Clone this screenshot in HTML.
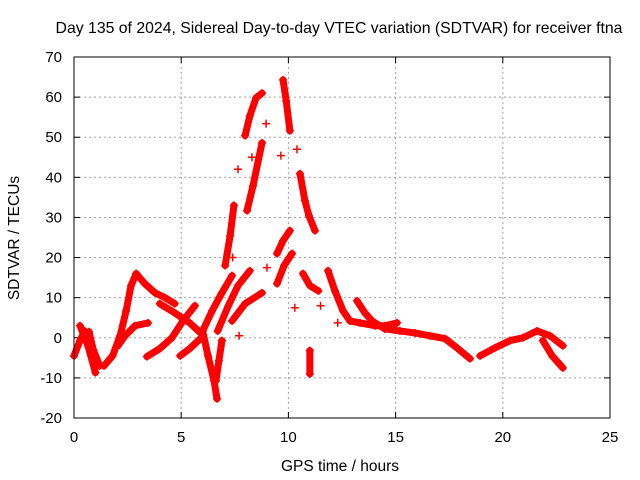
<!DOCTYPE html>
<html><head><meta charset="utf-8"><style>
body{margin:0;background:#fff}
svg{display:block;font-family:"Liberation Sans",Arial,sans-serif}
</style></head><body>
<svg id="chart" width="640" height="480" viewBox="0 0 640 480">
<rect width="640" height="480" fill="#fff"/>
<text x="339" y="33" font-size="15.8" text-anchor="middle">Day 135 of 2024, Sidereal Day-to-day VTEC variation (SDTVAR) for receiver ftna</text>
<text x="340" y="471" font-size="15.5" text-anchor="middle">GPS time / hours</text>
<text transform="translate(19,238) rotate(-90)" font-size="15.5" text-anchor="middle">SDTVAR / TECUs</text>
<g id="grid"></g><g id="ticks"></g><g id="marks"></g>
<rect x="74" y="57" width="536" height="361" fill="none" stroke="#000" stroke-width="1"/>
</svg>
<script>
const xTicks=[0,5,10,15,20,25];
const yTicks=[-20,-10,0,10,20,30,40,50,60,70];
const trackHours=[
[0,0.28,0.5],[0.28,0.65,1.0],[0.7,0.9,1.2],
[1.4,1.8,2.15,2.43,2.66,2.9],[2.9,3.3,3.78,4.24,4.7],[2.05,2.38,2.85,3.45],
[3.4,4.0,4.57,5.08,5.64],[4.0,4.7,5.4,5.9],[4.95,5.4,5.9],
[6.0,6.25,6.53,6.67],[6.9,6.76,6.62],[6.0,6.44,6.9,7.37],[6.7,7.2,7.65,8.2],[7.37,7.98,8.77],
[7.05,7.28,7.46],[8.07,8.35,8.77],[7.98,8.2,8.49,8.77],[9.75,9.9,10.07],
[9.47,9.75,10.07],[9.47,9.8,10.17],[10.54,10.77,10.96,11.24],[10.68,11.0,11.4],
[11.85,12.17,12.55,12.87,13.34,14.04,14.5,15.07],
[13.2,13.57,13.9,14.5,15.2,15.9,16.6,17.3,17.86,18.47],
[18.94,19.64,20.34,20.94,21.6,22.2,22.8],[21.87,22.3,22.8],[11.0,11.0]
];
const trackValues=[
[-4.5,-0.7,1.7],[3,-2,-8.7],[1.5,-3,-7],
[-7,-4.5,0.5,6.7,13,16],[16,13.5,11.2,10,8.5],[-2,0.5,3,3.7],
[-4.7,-2.7,0,4.2,8],[8.5,6.2,3.7,1.2],[-4.5,-2.7,-0.2],
[1.7,-4.5,-10.7,-15.2],[-0.7,-5.7,-10.7],[1.7,6.7,11.2,15.5],[1.7,8,13,16.7],[4.2,8.5,11.2],
[18,25.4,33],[31.7,37.9,48.6],[50.4,55.3,59.8,61],[64.3,59,51.6],
[21,24.2,26.7],[13.5,18,21],[40.9,34.2,30.4,26.7],[16,13,11.7],
[16.7,11.7,6.7,4.2,3.7,3,3,3.7],
[9.2,6.2,4.2,2.2,1.7,1.2,0.5,-0.2,-2.5,-5.2],
[-4.5,-2.5,-0.7,0,1.7,0.5,-2],[-0.7,-4.5,-7.5],[-3.2,-9]
];
const singleHours=[7.7,7.65,8.96,10.4,8.3,9.65,10.3,11.5,12.3,9.0,7.4];
const singleValues=[0.5,42,53.4,47,45,45.4,7.5,8,3.7,17.5,20];
const NS="http://www.w3.org/2000/svg";
const X0=74,X1=610,Y0=418,Y1=57;
const sx=h=>X0+(h-0)/(25-0)*(X1-X0);
const sy=v=>Y0-(v+20)/(70+20)*(Y0-Y1);
function mk(t,a){const e=document.createElementNS(NS,t);for(const k in a)e.setAttribute(k,a[k]);return e;}
const grid=document.getElementById('grid'),ticks=document.getElementById('ticks'),marks=document.getElementById('marks');
xTicks.forEach(t=>{const x=sx(t);
 if(t>0&&t<25){const g=mk('line',{x1:x,x2:x,y1:Y1,y2:Y0,stroke:'#a0a0a0','stroke-dasharray':'2,3'});
 
 grid.appendChild(g);}
 ticks.appendChild(mk('line',{x1:x,x2:x,y1:Y0,y2:Y0-6,stroke:'#000'}));
 ticks.appendChild(mk('line',{x1:x,x2:x,y1:Y1,y2:Y1+6,stroke:'#000'}));
 const tx=mk('text',{x:x,y:Y0+24,'font-size':15,'text-anchor':'middle'});tx.textContent=t;
 
 ticks.appendChild(tx);});
yTicks.forEach(t=>{const y=sy(t);
 if(t>-20&&t<70){const g=mk('line',{x1:X0,x2:X1,y1:y,y2:y,stroke:'#a0a0a0','stroke-dasharray':'2,3'});
 
 grid.appendChild(g);}
 ticks.appendChild(mk('line',{x1:X0,x2:X0+6,y1:y,y2:y,stroke:'#000'}));
 ticks.appendChild(mk('line',{x1:X1,x2:X1-6,y1:y,y2:y,stroke:'#000'}));
 const tx=mk('text',{x:X0-12,y:y+5,'font-size':15,'text-anchor':'end'});tx.textContent=t;
 
 ticks.appendChild(tx);});
function plus(x,y){return `M${x-4},${y}h8M${x},${y-4}v8`;}
trackHours.forEach((hs,i)=>{const vs=trackValues[i];
 const pts=hs.map((h,j)=>[sx(h),sy(vs[j])]);
 const pl=mk('polyline',{points:pts.map(p=>p.join(',')).join(' '),fill:'none',stroke:'#f00','stroke-width':7,'stroke-linejoin':'round','stroke-linecap':'round'});
 
 marks.appendChild(pl);
 const p=mk('path',{d:pts.map(q=>plus(q[0],q[1])).join(''),stroke:'#f00','stroke-width':1.5,fill:'none'});
 
 marks.appendChild(p);});
singleHours.forEach((h,i)=>{const p=mk('path',{d:plus(sx(h),sy(singleValues[i])),stroke:'#f00','stroke-width':1.5});
 
 marks.appendChild(p);});
</script>
</body></html>
